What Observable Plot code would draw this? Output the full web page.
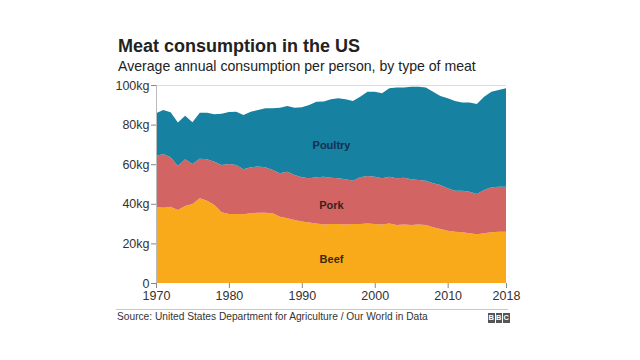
<!DOCTYPE html>
<html><head><meta charset="utf-8">
<script src="https://cdn.jsdelivr.net/npm/d3@7"></script>
<script src="https://cdn.jsdelivr.net/npm/@observablehq/plot@0.6"></script>
<style>
body{margin:0;background:#fff;}
#wrap{position:relative;width:640px;height:360px;overflow:hidden;font-family:"Liberation Sans",Arial,sans-serif;background:#fff;}
#title{position:absolute;left:118px;top:37px;font-size:18px;line-height:1;font-weight:bold;color:#222;white-space:nowrap;}
#subtitle{position:absolute;left:118px;top:59px;font-size:14.1px;line-height:1;color:#222;white-space:nowrap;}
#chart{position:absolute;left:0;top:75px;}
#rule{position:absolute;left:116px;top:309px;width:392px;height:1px;background:#c8c8c8;}
#source{position:absolute;left:117px;top:312px;font-size:10.2px;line-height:1;color:#333;white-space:nowrap;}
#logo{position:absolute;left:488px;top:313px;display:flex;gap:1px;}
#logo span{display:block;width:6.5px;height:10px;background:#555;color:#fff;font-size:7.5px;font-weight:bold;line-height:10px;text-align:center;}
</style></head>
<body>
<div id="wrap">
  <div id="title">Meat consumption in the US</div>
  <div id="subtitle">Average annual consumption per person, by type of meat</div>
  <div id="chart"></div>
  <div id="rule"></div>
  <div id="source">Source: United States Department for Agriculture / Our World in Data</div>
  <div id="logo"><span>B</span><span>B</span><span>C</span></div>
</div>
<script>
const years = d3.range(1970, 2019);
const beef = [38.5,38.0,38.5,36.9,38.9,39.9,42.8,41.6,39.4,35.7,34.8,34.8,34.7,35.2,35.5,35.5,35.2,33.5,32.7,31.8,31.0,30.5,30.1,29.6,29.8,29.8,29.6,29.8,29.8,30.1,29.8,29.6,30.1,29.3,29.6,29.3,29.6,29.3,28.1,27.3,26.4,25.9,25.6,25.1,24.6,25.1,25.6,25.9,25.9];
const pork = [25.6,27.2,25.0,22.2,23.6,20.2,20.0,20.9,21.9,23.9,25.3,24.8,22.7,23.2,23.3,22.9,21.9,21.9,23.5,22.7,22.4,22.4,23.3,24.1,23.4,23.1,22.8,21.9,23.6,23.9,23.9,23.3,23.6,23.6,23.6,23.1,22.4,22.4,22.3,22.2,21.4,20.7,21.0,21.0,20.4,21.9,22.7,22.7,22.7];
const poultry = [21.6,22.2,22.7,21.9,22.0,21.1,23.2,23.5,23.9,25.9,26.3,26.9,27.4,28.1,28.6,29.8,31.1,33.1,33.2,34.0,35.3,37.0,38.2,38.0,39.6,40.4,40.4,40.2,40.7,42.6,42.9,42.9,44.6,45.9,45.6,46.7,47.1,47.1,46.2,44.9,45.5,45.3,44.5,45.0,45.4,47.1,48.3,48.9,49.7];
const types = ["Beef","Pork","Poultry"];
const colors = ["#f9aa1b","#d26563","#1681a0"];
const labelColors = ["#3b2a0c","#3a1f1f","#142f50"];
const labelYears = [1994,1994,1994];
const labelValues = [12.1,39.4,69.7];
const xTicks = [1970,1980,1990,2000,2010,2018];
const yTicks = [0,20,40,60,80,100];

const series = {Beef: beef, Pork: pork, Poultry: poultry};
const data = types.flatMap(t => years.map((y, i) => ({year: y, type: t, value: series[t][i]})));
const labels = types.map((t, i) => ({type: t, year: labelYears[i], value: labelValues[i], color: labelColors[i]}));

const chart = Plot.plot({
  width: 640,
  height: 245,
  marginLeft: 156,
  marginRight: 134,
  marginTop: 10,
  marginBottom: 37,
  style: {fontFamily: "'Liberation Sans', Arial, sans-serif", fontSize: "12px", color: "#333", background: "#fff"},
  x: {domain: [1970, 2018], label: null},
  y: {domain: [0, 100], label: null},
  color: {domain: types, range: colors},
  marks: [
    Plot.ruleY([100], {stroke: "#dcdcdc"}),
    Plot.areaY(data, {x: "year", y: "value", fill: "type", z: "type", order: types}),
    Plot.ruleX([1970], {y1: 0, y2: 100, stroke: "#bbb"}),
    Plot.axisY({ticks: yTicks, tickFormat: d => d === 0 ? "0" : d + "kg", tickSize: 5, tickPadding: 2, stroke: "#888", fill: "#333", fontSize: 12.5}),
    Plot.axisX({ticks: xTicks, tickFormat: d => String(d), tickSize: 5, tickPadding: 3, stroke: "#888", fill: "#333", fontSize: 12.5}),
    Plot.text(labels, {x: "year", y: "value", text: "type", fill: "color", fontWeight: "bold", fontSize: 11})
  ]
});
document.getElementById("chart").appendChild(chart);
</script>
</body></html>
